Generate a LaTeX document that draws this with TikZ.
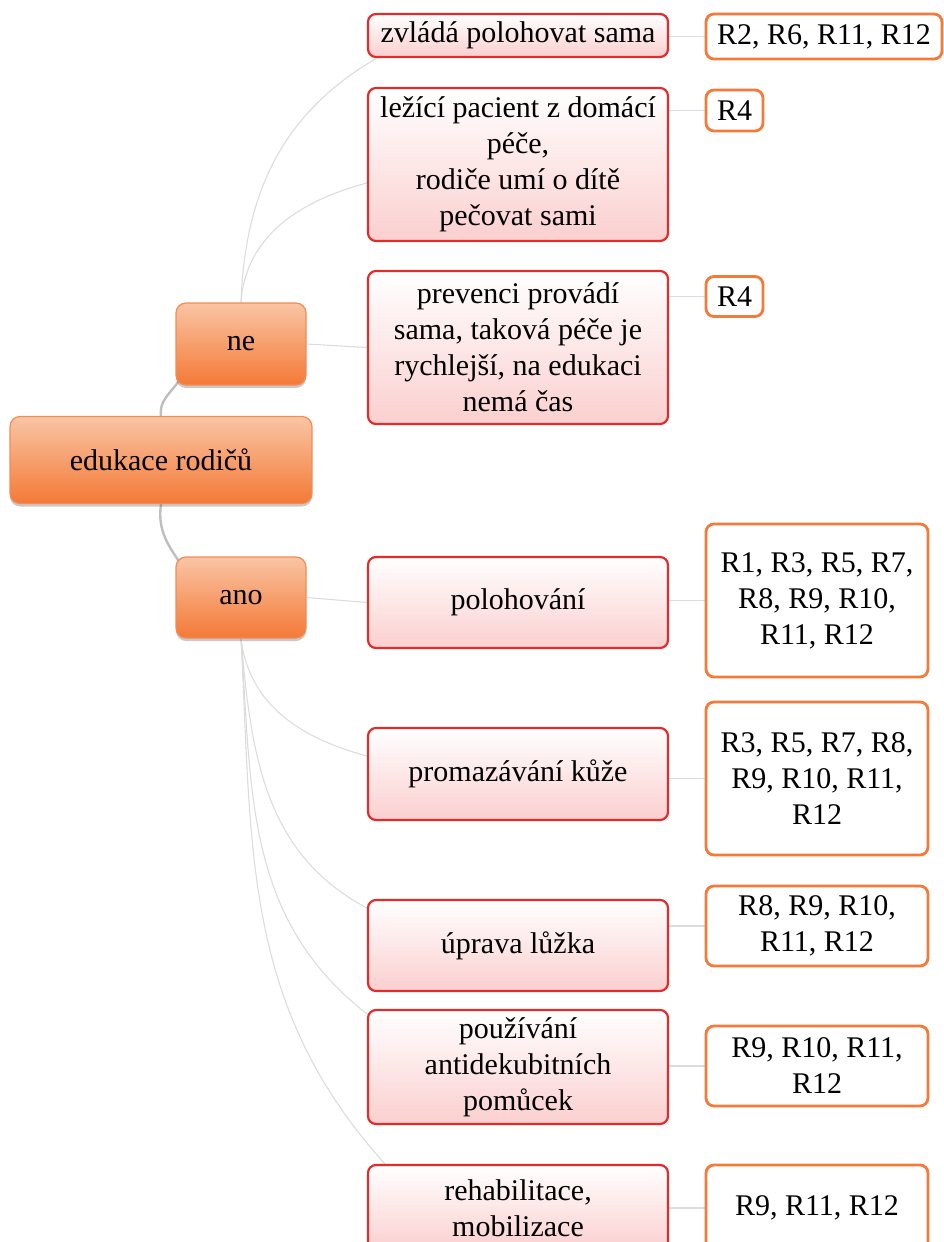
\documentclass[tikz,border=0pt]{standalone}
\usepackage{fontspec}
\setmainfont{Liberation Serif}
\usetikzlibrary{shadows,backgrounds}
\definecolor{orangeTop}{HTML}{F9C5A4}
\definecolor{orangeBot}{HTML}{F47936}
\definecolor{orangeLine}{HTML}{F28C55}
\definecolor{redLine}{HTML}{E22C2C}
\definecolor{redBot}{HTML}{FBCFCF}
\definecolor{refLine}{HTML}{F57A3A}
\definecolor{trunkGray}{HTML}{BEBEBE}
\definecolor{twigGray}{HTML}{DCDCDC}

\begin{document}
\begin{tikzpicture}[x=1pt,y=1pt,
  every node/.style={font=\fontsize{30}{36}\selectfont, align=center, inner sep=2pt, text=black},
  topbox/.style={rounded corners=10pt, draw=orangeLine, line width=1.2pt,
    top color=orangeTop, bottom color=orangeBot,
    drop shadow={shadow xshift=0pt, shadow yshift=-3pt, opacity=0.3, fill=black!70}},
  leafbox/.style={rounded corners=8pt, draw=redLine, line width=2.2pt,
    top color=white, bottom color=redBot, minimum width=300pt},
  refbox/.style={rounded corners=8pt, draw=refLine, line width=2.8pt, fill=white},
  trunk/.style={draw=trunkGray, line width=2.4pt},
  twig/.style={draw=twigGray, line width=1.1pt},
]
\useasboundingbox (0,0) rectangle (944,-1242);

% main topic and its two branches
\node[topbox, minimum width=302pt, minimum height=87pt] (root) at (161,-460) {edukace rodičů};
\node[topbox, minimum width=130pt, minimum height=82pt] (ne) at (241,-344) {ne};
\node[topbox, minimum width=130pt, minimum height=81pt] (ano) at (241,-597.5) {ano};

% answers under "ne"
\node[leafbox, minimum height=43pt] (z1) at (518,-35.5) {zvládá polohovat sama};
\node[leafbox, minimum height=153pt] (z2) at (518,-164.5) {ležící pacient z domácí\\péče,\\rodiče umí o dítě\\pečovat sami};
\node[leafbox, minimum height=153pt] (z3) at (518,-347.5) {prevenci provádí\\sama, taková péče je\\rychlejší, na edukaci\\nemá čas};

% answers under "ano"
\node[leafbox, minimum height=91pt] (a1) at (518,-602.5) {polohování};
\node[leafbox, minimum height=92pt] (a2) at (518,-774) {promazávání kůže};
\node[leafbox, minimum height=91pt] (a3) at (518,-945.5) {úprava lůžka};
\node[leafbox, minimum height=114pt] (a4) at (518,-1067) {používání\\antidekubitních\\pomůcek};
\node[leafbox, minimum height=86pt] (a5) at (518,-1208) {rehabilitace,\\mobilizace};

% respondents
\node[refbox, minimum width=236pt, minimum height=45pt] (rz1) at (824,-36.5) {R2, R6, R11, R12};
\node[refbox, minimum width=57pt, minimum height=41pt] (rz2) at (734.5,-110.5) {R4};
\node[refbox, minimum width=57pt, minimum height=40pt] (rz3) at (734.5,-296.5) {R4};
\node[refbox, minimum width=222pt, minimum height=153pt] (ra1) at (817,-600.5) {R1, R3, R5, R7,\\R8, R9, R10,\\R11, R12};
\node[refbox, minimum width=222pt, minimum height=153pt] (ra2) at (817,-778.5) {R3, R5, R7, R8,\\R9, R10, R11,\\R12};
\node[refbox, minimum width=222pt, minimum height=80pt] (ra3) at (817,-926) {R8, R9, R10,\\R11, R12};
\node[refbox, minimum width=222pt, minimum height=80pt] (ra4) at (817,-1066) {R9, R10, R11,\\R12};
\node[refbox, minimum width=222pt, minimum height=86pt] (ra5) at (817,-1208) {R9, R11, R12};

\begin{scope}[on background layer]
  % root to branches
  \draw[trunk] (root.north) to[out=98, in=-125] ([xshift=3pt,yshift=4pt]ne.south west);
  \draw[trunk] (root.south) to[out=-98, in=125] ([xshift=3pt,yshift=-4pt]ano.north west);
  % "ne" branch
  \draw[twig] (ne.north) to[out=88, in=-150] ([xshift=10pt]z1.south west);
  \draw[twig] (ne.north) to[out=86, in=-165] ([yshift=-18.5pt]z2.west);
  \draw[twig] (ne.east) -- (z3.west);
  % "ano" branch
  \draw[twig] (ano.south) ++(0,0) coordinate (anoFoot);
  \draw[twig] (ano.east) -- (a1.west);
  \draw[twig] (anoFoot) to[out=-83, in=165] ([yshift=18pt]a2.west);
  \draw[twig] (anoFoot) to[out=-85, in=152] ([yshift=37.5pt]a3.west);
  \draw[twig] (anoFoot) to[out=-86, in=142] ([yshift=-5pt]a4.north west);
  \draw[twig] (anoFoot) to[out=-87, in=132] ([xshift=18pt]a5.north west);
  % answers to respondents
  \foreach \l/\r in {z1/rz1, z2/rz2, z3/rz3, a1/ra1, a2/ra2, a3/ra3, a4/ra4, a5/ra5}
    \draw[twig] (\r.west) -- (\r.west -| \l.east);
\end{scope}
\end{tikzpicture}
\end{document}
